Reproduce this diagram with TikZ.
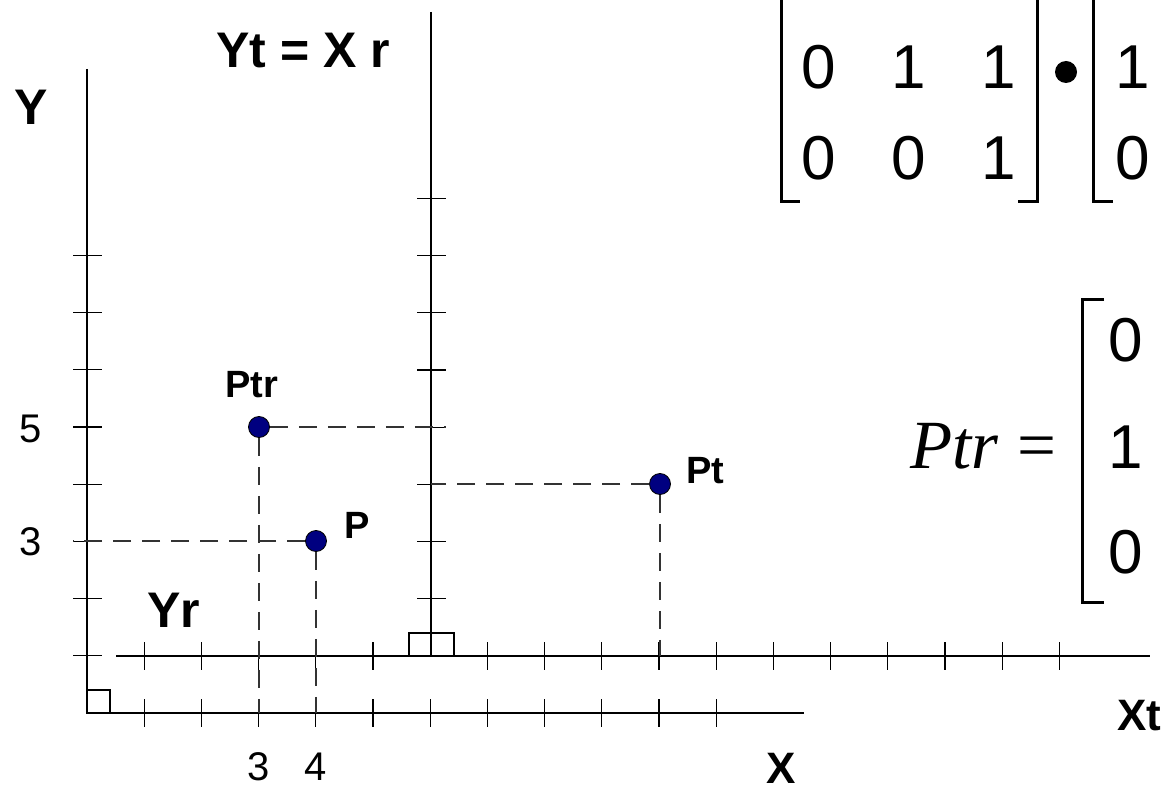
\documentclass[tikz,border=0pt]{standalone}
\usepackage{fontspec}
\setmainfont{Liberation Sans}
\newfontfamily\timesfont{Liberation Serif}
\usepackage{tikz}
\definecolor{ptblue}{RGB}{0,0,128}

\begin{document}
\begin{tikzpicture}[x=1pt, y=-1pt,
    axis/.style={line width=1.2pt},
    tick/.style={line width=1.1pt},
    guide/.style={line width=1.1pt, black!80, dash pattern=on 18pt off 11pt},
    dot/.style={circle, draw=black, line width=0.8pt, fill=ptblue, minimum size=21pt, inner sep=0pt},
    axlabel/.style={anchor=base west, inner sep=0pt, font=\fontsize{50}{60}\selectfont\bfseries},
    ptlabel/.style={anchor=base west, inner sep=0pt, font=\fontsize{38}{46}\selectfont\bfseries},
    num/.style={anchor=base, inner sep=0pt, font=\fontsize{40}{48}\selectfont},
    entry/.style={anchor=base, inner sep=0pt, font=\fontsize{62}{74}\selectfont},
    bracket/.style={line width=3pt},
]
    \clip (0,0) rectangle (1167,791);

    % axes
    \draw[axis] (87,69) -- (87,713) -- (804,713);
    \draw[axis] (431,12) -- (431,656);
    \draw[axis] (116,656) -- (1150,656);
    \draw[axis] (87,690) -| (110,713);
    \draw[axis] (409,656) |- (454,633) -- (454,656);

    % ticks
    \foreach \k in {1,...,11}
        \draw[tick] ({87+57.2*\k},699) -- ++(0,28);
    \foreach \k in {1,...,5,7,8,...,17}
        \draw[tick] ({87+57.2*\k},642) -- ++(0,28);
    \foreach \k in {1,...,8} {
        \draw[tick] (73,{713-57.2*\k}) -- ++(29,0);
        \draw[tick] (417,{656-57.2*\k}) -- ++(29,0);
    }

    % points
    \node[dot] (Ptr) at (259,427) {};
    \node[dot] (P) at (316,541) {};
    \node[dot] (Pt) at (660,484) {};

    \coordinate (Ptr-y) at (446,427);
    \coordinate (Ptr-x) at (259,713);
    \coordinate (P-y) at (73,541);
    \coordinate (P-x) at (316,713);
    \coordinate (Pt-y) at (431,484);
    \coordinate (Pt-x) at (660,656);

    \draw[guide] (Ptr) -- (Ptr-y);
    \draw[guide] (Ptr) -- (Ptr-x);
    \draw[guide] (P) -- (P-y);
    \draw[guide] (P) -- (P-x);
    \draw[guide] (Pt) -- (Pt-y);
    \draw[guide] (Pt) -- (Pt-x);

    % labels
    \node[axlabel] (ylab) at (14,125) {Y};
    \node[axlabel] (ytlab) at (216,68) {Yt = X r};
    \node[axlabel] (yrlab) at (147,627) {Yr};
    \node[axlabel, font=\fontsize{44}{52}\selectfont\bfseries] (xlab) at (766,783) {X};
    \node[axlabel, font=\fontsize{44}{52}\selectfont\bfseries] (xtlab) at (1117,730) {Xt};
    \node[ptlabel] (ptrlab) at (225,397) {Ptr};
    \node[ptlabel] (plab) at (344,538) {P};
    \node[ptlabel] (ptlab) at (686,483) {Pt};
    \node[num, anchor=base west] (five) at (19,442) {5};
    \node[num, anchor=base west] (three) at (19,555) {3};
    \node[num] (xthree) at (259,780) {3};
    \node[num] (xfour) at (316,780) {4};

    % rotation matrix times vector
    \foreach \x/\v [count=\i] in {819/0,909/1,999/1}
        \node[entry] (a1\i) at (\x,89) {\v};
    \foreach \x/\v [count=\i] in {819/0,909/0,999/1}
        \node[entry] (a2\i) at (\x,180) {\v};
    \draw[bracket] (781,-5) |- (800,202);
    \draw[bracket] (1037,-5) |- (1018,202);
    \node[circle, fill=black, minimum size=22pt, inner sep=0pt] (times) at (1066,72) {};
    \draw[bracket] (1093,-5) |- (1113,202);
    \node[entry] (b1) at (1133,89) {1};
    \node[entry] (b2) at (1133,180) {0};

    % result
    \node[anchor=base west, inner sep=0pt, font=\timesfont\fontsize{69}{80}\selectfont] (eq) at (910,468) {\itshape Ptr\hspace{0.27em}\upshape=};
    \draw[bracket] (1104,300) -| (1082,602) -- (1104,602);
    \node[entry] (c1) at (1126,362) {0};
    \node[entry] (c2) at (1126,468) {1};
    \node[entry] (c3) at (1126,573) {0};
\end{tikzpicture}
\end{document}
